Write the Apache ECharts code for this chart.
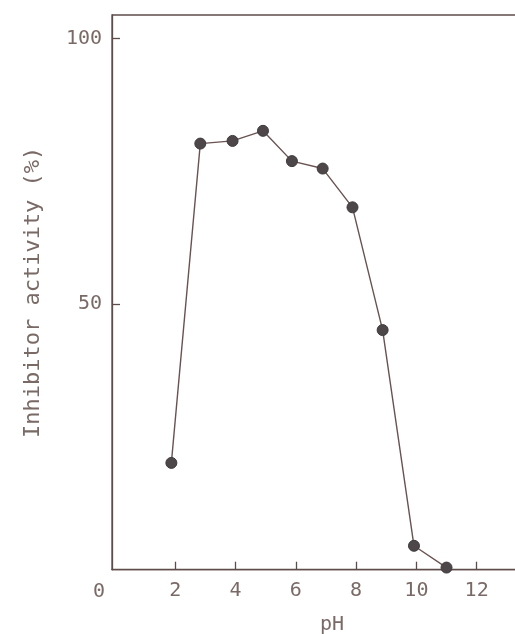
<!DOCTYPE html>
<html>
<head>
<meta charset="utf-8">
<script src="https://cdn.jsdelivr.net/npm/echarts@6/dist/echarts.min.js"></script>
<style>
html,body{margin:0;padding:0;background:#fff;}
#main{width:515px;height:634px;}
</style>
</head>
<body>
<div id="main"></div>
<script>
const pH = [1.87, 2.83, 3.90, 4.91, 5.87, 6.89, 7.88, 8.88, 9.92, 11.0];
const activity = [20.1, 80.2, 80.7, 82.6, 76.9, 75.5, 68.2, 45.1, 4.5, 0.4];
const xTicks = [2, 4, 6, 8, 10, 12];
const yTicks = [50, 100];

const textColor = '#7a6a66';
const axisColor = '#5e4c4a';
const font = 'DejaVu Sans Mono';

const chart = echarts.init(document.getElementById('main'));
chart.setOption({
  animation: false,
  backgroundColor: '#ffffff',
  grid: { left: 112, right: -37, top: 15, bottom: 64.3, outerBoundsMode: 'none', containLabel: false,
          show: true, borderColor: axisColor, borderWidth: 1.3 },
  xAxis: {
    type: 'value', min: -0.1, max: 14.5,
    name: 'pH', nameLocation: 'middle', nameGap: 45,
    nameTextStyle: { color: textColor, fontFamily: font, fontSize: 20 },
    axisLine: { show: true, onZero: false, lineStyle: { color: axisColor, width: 1.3 } },
    axisTick: { show: true, inside: true, length: 8, customValues: xTicks, lineStyle: { color: axisColor, width: 1.3 } },
    axisLabel: { color: textColor, fontFamily: font, fontSize: 20, margin: 11, customValues: xTicks, formatter: v => String(v) },
    splitLine: { show: false }
  },
  yAxis: {
    type: 'value', min: 0, max: 104.4,
    name: 'Inhibitor activity (%)', nameLocation: 'middle', nameGap: 68,
    nameTextStyle: { color: textColor, fontFamily: font, fontSize: 22 },
    axisLine: { show: true, onZero: false, lineStyle: { color: axisColor, width: 1.3 } },
    axisTick: { show: true, inside: true, length: 8, customValues: yTicks, lineStyle: { color: axisColor, width: 1.3 } },
    axisLabel: { color: textColor, fontFamily: font, fontSize: 20, margin: 10, customValues: yTicks, formatter: v => String(v) },
    splitLine: { show: false }
  },
  graphic: [{
    type: 'text', left: 93, top: 582,
    style: { text: '0', fill: textColor, font: '20px "DejaVu Sans Mono"' }
  }],
  series: [{
    type: 'line',
    data: pH.map((x, i) => [x, activity[i]]),
    symbol: 'circle', symbolSize: 11,
    lineStyle: { color: '#6a5252', width: 1.4 },
    itemStyle: { color: '#4d474a', borderColor: '#3e3a3c', borderWidth: 1 }
  }]
});
</script>
</body>
</html>
